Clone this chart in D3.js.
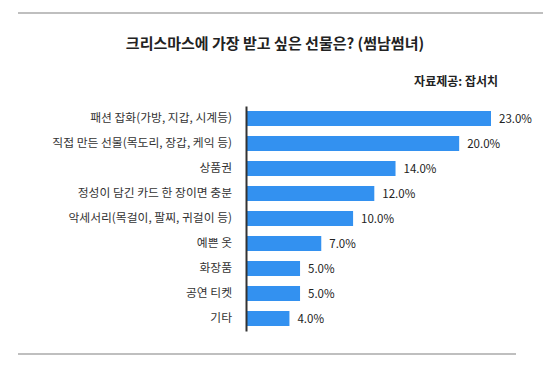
<!DOCTYPE html>
<html><head><meta charset="utf-8">
<script src="https://cdn.jsdelivr.net/npm/d3@7/dist/d3.min.js"></script>
<style>body{margin:0;background:#fff;}svg{display:block;}</style>
</head><body>
<script>
const categories = ["패션 잡화(가방, 지갑, 시계등)", "직접 만든 선물(목도리, 장갑, 케익 등)", "상품권", "정성이 담긴 카드 한 장이면 충분", "악세서리(목걸이, 팔찌, 귀걸이 등)", "예쁜 옷", "화장품", "공연 티켓", "기타"];
const values = [23, 20, 14, 12, 10, 7, 5, 5, 4];
const titleText = "크리스마스에 가장 받고 싶은 선물은? (썸남썸녀)";
const sourceText = "자료제공: 잡서치";

const W = 543, H = 367;
const font = "'Noto Sans CJK KR', 'Noto Sans', sans-serif";
const svg = d3.select("body").append("svg").attr("width", W).attr("height", H);

svg.append("line").attr("x1", 18).attr("x2", 543).attr("y1", 13).attr("y2", 13)
  .attr("stroke", "#aaa").attr("stroke-width", 1.5);
svg.append("line").attr("x1", 18).attr("x2", 516).attr("y1", 354).attr("y2", 354)
  .attr("stroke", "#aaa").attr("stroke-width", 1.5);

svg.append("text").attr("x", 275).attr("y", 49).attr("text-anchor", "middle")
  .attr("font-family", font).attr("font-size", 15).attr("font-weight", "bold").attr("fill", "#222")
  .text(titleText);
svg.append("text").attr("x", 498).attr("y", 86).attr("text-anchor", "end")
  .attr("font-family", font).attr("font-size", 12).attr("font-weight", "bold").attr("fill", "#222")
  .text(sourceText);

const x = d3.scaleLinear().domain([0, 23]).range([247, 491]);
const y = d3.scaleBand().domain(categories).range([106, 331]).paddingInner(0.4).paddingOuter(0.2);

svg.selectAll("rect.bar").data(values).enter().append("rect")
  .attr("x", x(0)).attr("y", (d, i) => y(categories[i]))
  .attr("width", d => x(d) - x(0)).attr("height", y.bandwidth())
  .attr("fill", "#3391f0");

svg.selectAll("text.val").data(values).enter().append("text")
  .attr("x", d => x(d) + 8).attr("y", (d, i) => y(categories[i]) + y.bandwidth() / 2)
  .attr("dy", "0.35em").attr("font-family", font).attr("font-size", 11.5).attr("fill", "#222")
  .text(d => d.toFixed(1) + "%");

const axis = d3.axisLeft(y).tickSize(0).tickPadding(14);
const g = svg.append("g").attr("transform", `translate(246,0)`).call(axis);
g.select(".domain").attr("stroke", "#333").attr("stroke-width", 2);
g.selectAll("text").attr("font-family", font).attr("font-size", 11.8).attr("fill", "#333");
</script>
</body></html>
